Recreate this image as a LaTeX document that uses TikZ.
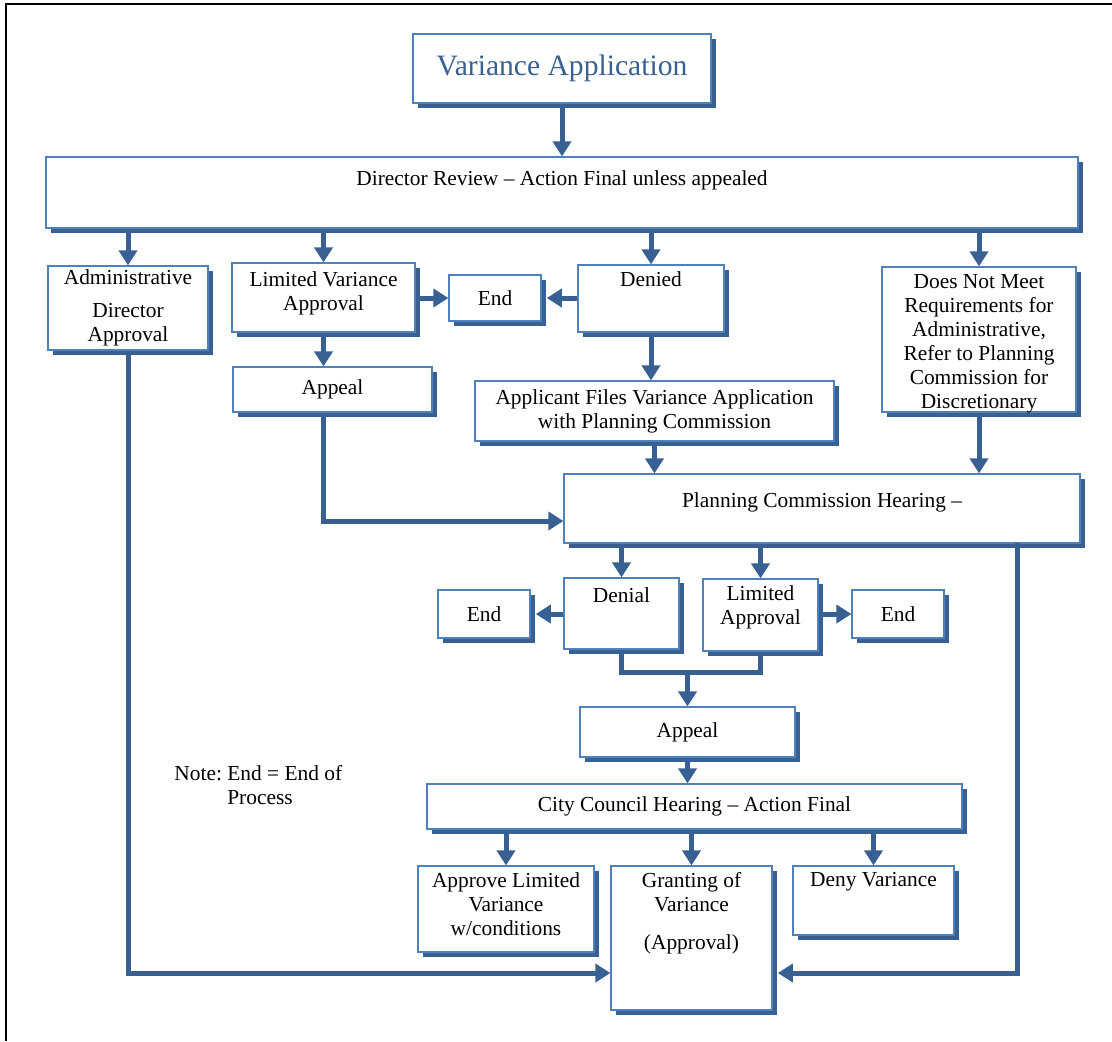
\documentclass[tikz,border=0pt]{standalone}
\usepackage{fontspec}
\setmainfont{Liberation Serif}
\usetikzlibrary{arrows.meta,shadows}
\definecolor{vblue}{RGB}{56,96,146}
\definecolor{vedge}{RGB}{79,129,189}

\begin{document}
\begin{tikzpicture}[x=0.5pt, y=-0.5pt,
    font=\fontsize{10.7}{12}\selectfont,
    card/.style={draw=vedge, line width=0.6pt, fill=white, inner sep=1pt, align=center,
      drop shadow={shadow xshift=2.6pt, shadow yshift=-2.6pt, fill=vblue, opacity=1}},
    toptext/.style={anchor=north, align=center, inner sep=3.3pt},
    flow/.style={draw=vblue, line width=2.5pt, -{Triangle[width=9pt,length=7.5pt]}},
    link/.style={draw=vblue, line width=2.5pt}]
  \useasboundingbox (0,0) rectangle (1112,1041);
  \draw[line width=1pt] (6,1041) |- (1112,4);

  % director level
  \node[card, minimum width=149pt, minimum height=34.5pt, text=vblue,
        font=\fontsize{14.8}{17}\selectfont] (title) at (562,68.5) {Variance Application};
  \node[card, minimum width=516pt, minimum height=35.5pt,
        label={[toptext, yshift=-3.5pt]north:Director Review – Action Final unless appealed}] (director) at (562,192.5) {};
  \node[card, minimum width=80pt, minimum height=42pt] (admin) at (128,308) {Administrative\\[4.5pt]Director\\Approval};
  \node[card, minimum width=91.5pt, minimum height=34.5pt,
        label={[toptext, yshift=-1pt]north:{Limited Variance\\Approval}}] (limvar) at (323.5,297.5) {};
  \node[card, minimum width=46pt, minimum height=23pt] (end1) at (495,298) {End};
  \node[card, minimum width=73pt, minimum height=33.5pt,
        label={[toptext]north:Denied}] (denied) at (651,298.5) {};
  \node[card, minimum width=99.5pt, minimum height=22.5pt] (appeal1) at (332.5,389.5) {Appeal};
  \node[card, minimum width=179.5pt, minimum height=30pt] (applicant) at (654.5,411) {Applicant Files Variance Application\\with Planning Commission};
  \node[card, minimum width=97pt, minimum height=72.5pt, label={[toptext, yshift=-0.5pt]north:{Does Not Meet\\Requirements for\\Administrative,\\Refer to Planning\\Commission for\\Discretionary}}] (refer) at (979,339.5) {};

  % planning commission level
  \node[card, minimum width=258pt, minimum height=34.5pt,
        label={[toptext, yshift=-6pt]north:Planning Commission Hearing –}] (pc) at (822,508.5) {};
  \node[card, minimum width=57.5pt, minimum height=35.5pt,
        label={[toptext, yshift=-1.5pt]north:Denial}] (denial) at (621.5,613.5) {};
  \node[card, minimum width=57.5pt, minimum height=36pt,
        label={[toptext]north:{Limited\\Approval}}] (limappr) at (760.5,615) {};
  \node[card, minimum width=46pt, minimum height=24pt] (end2) at (484,614) {End};
  \node[card, minimum width=46pt, minimum height=24pt] (end3) at (898,614) {End};
  \node[card, minimum width=107.5pt, minimum height=25pt] (appeal2) at (687.5,732) {Appeal};

  % council level
  \node[card, minimum width=267.5pt, minimum height=22.5pt] (council) at (694.5,806.5) {City Council Hearing – Action Final};
  \node[card, minimum width=88pt, minimum height=43pt,
        label={[toptext]north:{Approve Limited\\Variance\\w/conditions}}] (approve) at (506,909) {};
  \node[card, minimum width=80.5pt, minimum height=72pt,
        label={[toptext]north:{Granting of\\Variance\\[7pt](Approval)}}] (grant) at (691.5,938) {};
  \node[card, minimum width=80.5pt, minimum height=34.5pt,
        label={[toptext]north:Deny Variance}] (deny) at (873.5,900.5) {};

  \node[anchor=north west, inner sep=0pt] (note) at (174,763)
    {\begin{tabular}{@{}l@{\ }l@{}}Note: & End = End of\\ & Process\end{tabular}};

  % connectors
  \draw[flow] (title) -- (director);
  \draw[flow] (admin |- director.south) -- (admin);
  \draw[flow] (limvar |- director.south) -- (limvar);
  \draw[flow] (denied |- director.south) -- (denied);
  \draw[flow] (refer |- director.south) -- (refer);
  \draw[flow] (limvar.east |- end1) -- (end1);
  \draw[flow, shorten >=2.6pt] (denied.west |- end1) -- (end1.east);
  \draw[flow] (limvar.south) -- (limvar.south |- appeal1.north);
  \draw[flow] (denied.south) -- (denied.south |- applicant.north);
  \draw[flow] (refer.south) -- (refer.south |- pc.north);
  \draw[flow] (applicant.south) -- (applicant.south |- pc.north);
  \draw[flow] (limvar.south |- appeal1.south) |- ([yshift=-6.25pt]pc.west);

  \draw[flow] (pc.south -| denial) -- (denial);
  \draw[flow] (pc.south -| limappr) -- (limappr);
  \draw[flow, shorten >=2.6pt] (denial.west |- end2) -- (end2.east);
  \draw[flow] (limappr.east |- end3) -- (end3);
  \coordinate (merge) at (687.5,672);
  \draw[link] (denial.south) |- (merge) -| (limappr.south);
  \draw[flow] (merge) -- (appeal2);
  \draw[flow] (appeal2.south) -- (appeal2.south |- council.north);

  \draw[flow] (approve |- council.south) -- (approve);
  \draw[flow] (grant |- council.south) -- (grant);
  \draw[flow] (deny |- council.south) -- (deny);
  \draw[flow] (admin.south) |- ([yshift=-17.5pt]grant.west);
  \coordinate (pcdrop) at (1017,543);
  \draw[flow, shorten >=2.6pt] (pcdrop) |- ([yshift=-17.5pt]grant.east);
\end{tikzpicture}
\end{document}
